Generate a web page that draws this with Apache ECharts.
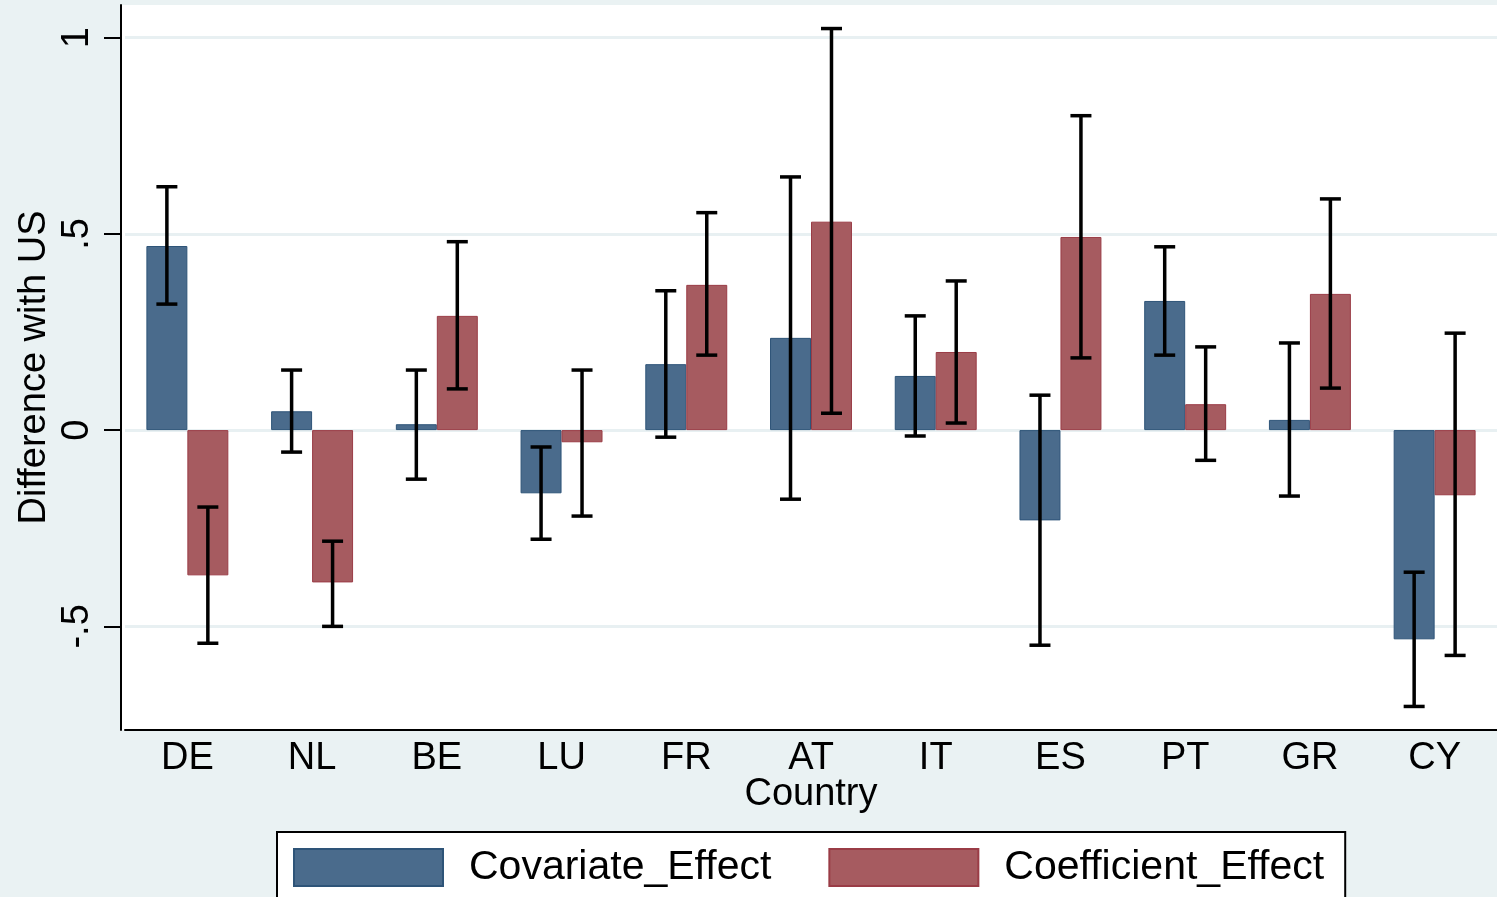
<!DOCTYPE html>
<html>
<head>
<meta charset="utf-8">
<script src="https://cdn.jsdelivr.net/npm/echarts@6/dist/echarts.min.js"></script>
<style>
html,body{margin:0;padding:0;background:#eaf2f3;}
#chart{width:1497px;height:897px;}
</style>
</head>
<body>
<div id="chart"></div>
<script>
var countries = ['DE','NL','BE','LU','FR','AT','IT','ES','PT','GR','CY'];
var covariateEffect = [0.469, 0.048, 0.015, -0.161, 0.168, 0.235, 0.138, -0.230, 0.329, 0.026, -0.533];
var covariateLow    = [0.321, -0.056, -0.125, -0.278, -0.018, -0.176, -0.015, -0.548, 0.191, -0.168, -0.704];
var covariateHigh   = [0.620, 0.153, 0.153, -0.043, 0.355, 0.645, 0.291, 0.089, 0.467, 0.222, -0.362];
var coefficientEffect = [-0.370, -0.388, 0.291, -0.031, 0.370, 0.531, 0.199, 0.492, 0.066, 0.347, -0.166];
var coefficientLow    = [-0.543, -0.500, 0.105, -0.219, 0.191, 0.043, 0.018, 0.184, -0.077, 0.107, -0.574];
var coefficientHigh   = [-0.196, -0.283, 0.480, 0.153, 0.554, 1.023, 0.380, 0.801, 0.212, 0.589, 0.247];
var yTicks = [-0.5, 0, 0.5, 1];
var yTickLabels = {'-0.5': '-.5', '0': '0', '0.5': '.5', '1': '1'};

var FONT = '"Liberation Sans", Arial, Helvetica, sans-serif';
var CAT_GAP = 0.343;

function errData(low, high) {
  return countries.map(function (c, i) { return [i, low[i], high[i]]; });
}
function errRender(side) {
  return function (params, api) {
    var idx = api.value(0);
    var band = api.size([1, 0])[0];
    var barW = band * (1 - CAT_GAP) / 2;
    var lo = api.coord([idx, api.value(1)]);
    var hi = api.coord([idx, api.value(2)]);
    var x = lo[0] + side * barW / 2;
    var cap = 10.5;
    var st = { stroke: '#000', lineWidth: 3.5 };
    return {
      type: 'group',
      children: [
        { type: 'line', shape: { x1: x, y1: lo[1], x2: x, y2: hi[1] }, style: st },
        { type: 'line', shape: { x1: x - cap, y1: lo[1], x2: x + cap, y2: lo[1] }, style: st },
        { type: 'line', shape: { x1: x - cap, y1: hi[1], x2: x + cap, y2: hi[1] }, style: st }
      ]
    };
  };
}

var chart = echarts.init(document.getElementById('chart'), null, { renderer: 'canvas' });
chart.setOption({
  backgroundColor: '#eaf2f3',
  animation: false,
  graphic: [{
    type: 'rect', z: -10, silent: true,
    shape: { x: 121, y: 5, width: 1376, height: 725 },
    style: { fill: '#ffffff' }
  }],
  grid: { left: 125, right: 0, top: 5, bottom: 167, containLabel: false },
  legend: {
    data: [
      { name: 'Covariate_Effect', icon: 'rect' },
      { name: 'Coefficient_Effect', icon: 'rect' }
    ],
    left: 277, top: 832,
    orient: 'horizontal',
    backgroundColor: '#ffffff',
    borderColor: '#000000',
    borderWidth: 2,
    borderRadius: 0,
    padding: [15, 21, 20, 16],
    itemWidth: 149, itemHeight: 37,
    itemGap: 57,
    textStyle: { fontFamily: FONT, fontSize: 41, color: '#000', padding: [0, 0, 0, 21] }
  },
  xAxis: {
    type: 'category',
    data: countries,
    name: 'Country',
    nameLocation: 'middle',
    nameGap: 46,
    nameMoveOverlap: false,
    nameTextStyle: { fontFamily: FONT, fontSize: 38, color: '#000' },
    axisLine: { show: true, onZero: false, lineStyle: { color: '#000', width: 2 } },
    axisTick: { show: false },
    axisLabel: { fontFamily: FONT, fontSize: 38, color: '#000', margin: 10 },
    splitLine: { show: false }
  },
  yAxis: {
    type: 'value',
    min: -0.764, max: 1.083,
    offset: 4,
    name: 'Difference with US',
    nameLocation: 'middle',
    nameRotate: 90,
    nameGap: 67,
    nameMoveOverlap: false,
    nameTextStyle: { fontFamily: FONT, fontSize: 38, color: '#000' },
    axisLine: { show: true, lineStyle: { color: '#000', width: 2 } },
    axisTick: { show: true, length: 17, lineStyle: { color: '#000', width: 2 }, customValues: yTicks },
    axisLabel: {
      rotate: 90, fontFamily: FONT, fontSize: 38, color: '#000', margin: 24,
      customValues: yTicks,
      formatter: function (v) { var k = String(Math.round(v * 100) / 100); return yTickLabels[k] !== undefined ? yTickLabels[k] : k; }
    },
    splitLine: { show: true, lineStyle: { color: '#e8f0f2', width: 3 } }
  },
  series: [
    {
      name: 'Covariate_Effect', type: 'bar', data: covariateEffect,
      barGap: '0%', barCategoryGap: (CAT_GAP * 100) + '%',
      itemStyle: { color: '#4a6b8c', borderColor: '#2e5478', borderWidth: 1 }
    },
    {
      name: 'Coefficient_Effect', type: 'bar', data: coefficientEffect,
      barGap: '0%', barCategoryGap: (CAT_GAP * 100) + '%',
      itemStyle: { color: '#a65b60', borderColor: '#9a3c46', borderWidth: 1 }
    },
    {
      name: 'cov_ci', type: 'custom', z: 5, renderItem: errRender(-1),
      encode: { x: 0, y: [1, 2] }, data: errData(covariateLow, covariateHigh)
    },
    {
      name: 'coef_ci', type: 'custom', z: 5, renderItem: errRender(1),
      encode: { x: 0, y: [1, 2] }, data: errData(coefficientLow, coefficientHigh)
    }
  ]
});
</script>
</body>
</html>
